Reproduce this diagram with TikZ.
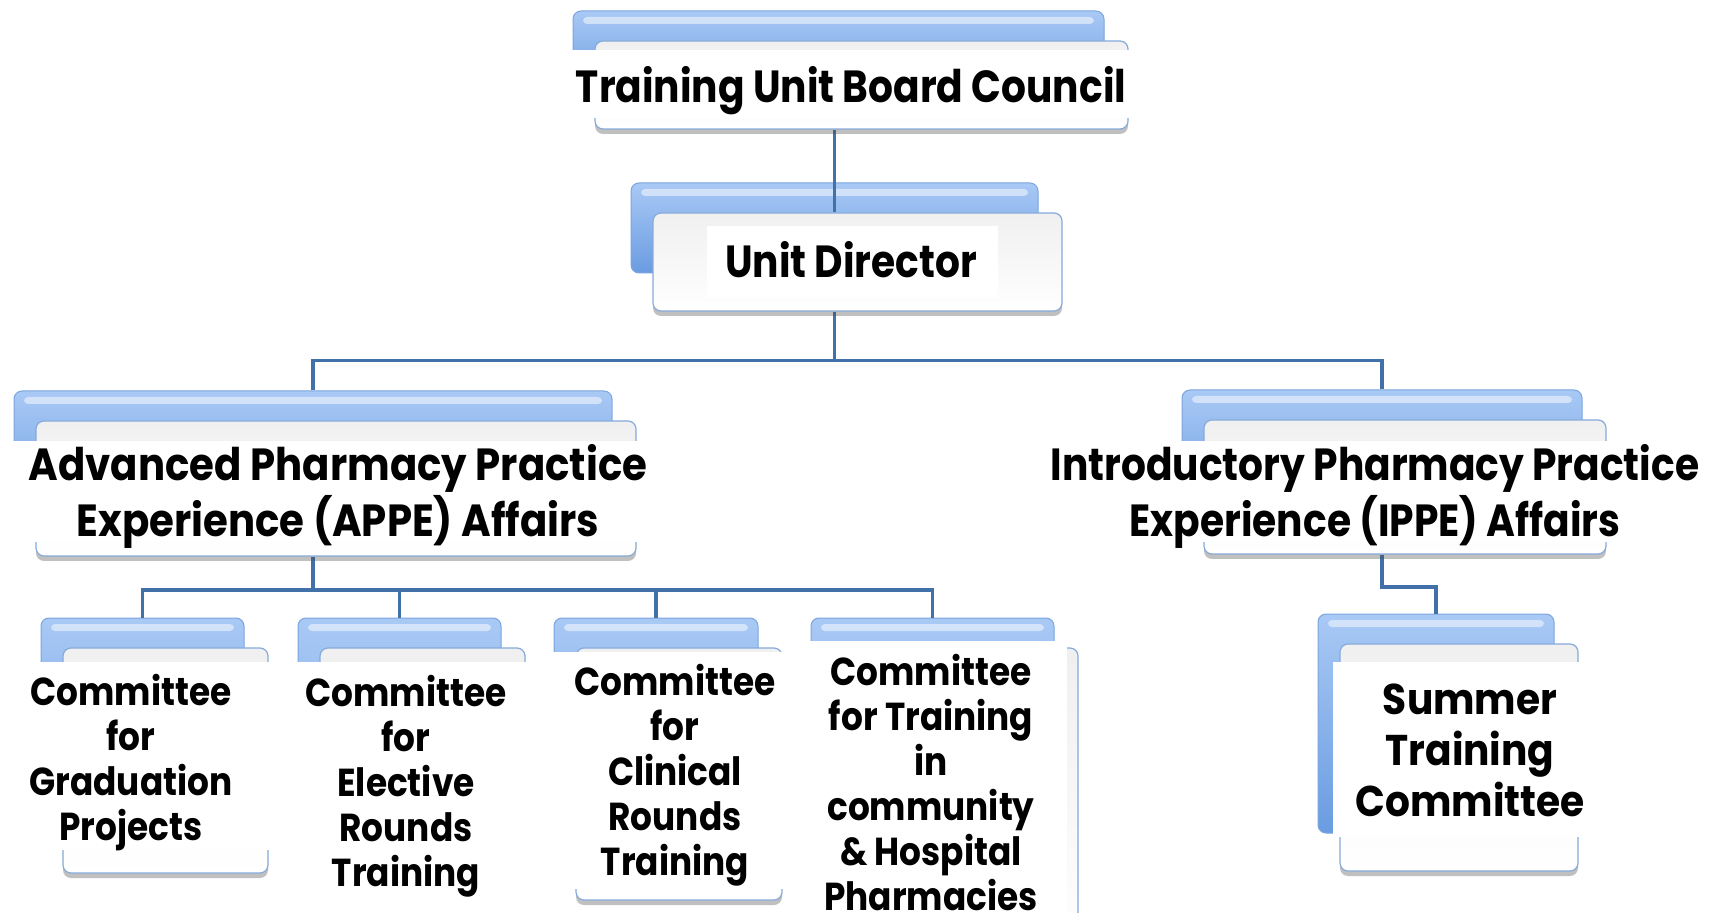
\documentclass[tikz,border=0pt]{standalone}
\usepackage{fontspec}
\setmainfont{Poppins}
\usetikzlibrary{fit,shadows,calc}
\definecolor{tabtop}{HTML}{A9C9F5}
\definecolor{tabbot}{HTML}{6A9CE1}
\definecolor{tabline}{HTML}{7AA5DD}
\definecolor{frontline}{HTML}{86AADA}
\definecolor{linkc}{HTML}{4270A8}
\pgfdeclarelayer{paper}\pgfdeclarelayer{tabs}\pgfdeclarelayer{links}
\pgfsetlayers{paper,tabs,links,main}
\tikzset{
 tabbox/.style={rounded corners=4pt, draw=tabline, line width=0.5pt, top color=tabtop, bottom color=tabbot, inner sep=0pt,
   path picture={\fill[white,opacity=0.5,rounded corners=2pt] ($(path picture bounding box.north west)+(5pt,-3pt)$) rectangle ($(path picture bounding box.north east)+(-5pt,-6.5pt)$);}},
 frontbox/.style={rounded corners=4pt, draw=frontline, line width=0.6pt, top color=black!6, bottom color=white, inner sep=0pt,
   drop shadow={shadow xshift=0pt, shadow yshift=-2.5pt, opacity=0.35, fill=black!70}},
 textbg/.style={fill=white, inner sep=0pt},
 txt/.style={inner sep=0pt, font=\bfseries},
 link/.style={draw=linkc, line width=1.9pt},
}
\newcommand\bigtxt[2][0.87]{\fontsize{22.5}{25.5}\selectfont\scalebox{#1}[1]{\begin{tabular}{@{}c@{}}#2\end{tabular}}}
\newcommand\comtxt[1]{\fontsize{19.5}{22.5}\selectfont\scalebox{0.88}[1]{\begin{tabular}{@{}c@{}}#1\end{tabular}}}
\newcommand\sumtxt[1]{\fontsize{21.5}{25.5}\selectfont\scalebox{0.91}[1]{\begin{tabular}{@{}c@{}}#1\end{tabular}}}
\newcommand\orgbox[5]{%
 \begin{pgfonlayer}{tabs}
 \node[tabbox, fit={({#2-22},{#3-30}) ({#4-24},{#5-38})}] (#1-t) {};
 \end{pgfonlayer}
 \node[frontbox, fit={(#2,#3) (#4,#5)}] (#1-f) {};
}
\begin{document}
\begin{tikzpicture}[x=0.5pt,y=-0.5pt]
\useasboundingbox (0,0) rectangle (1711,913);
\begin{pgfonlayer}{paper}
\fill[white] (0,0) rectangle (1711,913);
\end{pgfonlayer}
\clip (0,0) rectangle (1711,913);
% boxes
\orgbox{top}{595}{41}{1128}{129}
\orgbox{ud}{653}{213}{1062}{311}
\orgbox{appe}{36}{421}{636}{556}
\orgbox{ippe}{1204}{420}{1606}{554}
\orgbox{c1}{63}{648}{268}{873}
\orgbox{c2}{320}{648}{525}{960}
\orgbox{c3}{576}{648}{782}{900}
\orgbox{c4}{833}{648}{1078}{960}
\orgbox{c5}{1340}{644}{1578}{871}
% text backgrounds
\node[textbg, fit={(568,50) (1130,118)}] (top-bg) {};
\node[textbg, fit={(707,226) (998,297)}] (ud-bg) {};
\node[textbg, fit={(0,441) (655,542)}] (appe-bg) {};
\node[textbg, fit={(1042,441) (1711,542)}] (ippe-bg) {};
\node[textbg, fit={(0,662) (270,850)}] (c1-bg) {};
\node[textbg, fit={(286,662) (528,913)}] (c2-bg) {};
\node[textbg, fit={(547,652) (786,889)}] (c3-bg) {};
\node[textbg, fit={(806,641) (1067,913)}] (c4-bg) {};
\node[textbg, fit={(1333,662) (1580,837)}] (c5-bg) {};
% texts
\node[txt] (top) at (851,92) {\bigtxt{Training Unit Board Council}};
\node[txt] (ud) at (851,267) {\bigtxt{Unit Director}};
\node[txt] (appe) at (338,498) {\bigtxt[0.895]{Advanced Pharmacy Practice\\Experience (APPE) Affairs}};
\node[txt] (ippe) at (1375,498) {\bigtxt{Introductory Pharmacy Practice\\Experience (IPPE) Affairs}};
\node[txt] (c1) at (131,764) {\comtxt{Committee\\for\\Graduation\\Projects}};
\node[txt] (c2) at (406,787) {\comtxt{Committee\\for\\Elective\\Rounds\\Training}};
\node[txt] (c3) at (675,776) {\comtxt{Committee\\for\\Clinical\\Rounds\\Training}};
\node[txt] (c4) at (931,789) {\comtxt{Committee\\for Training\\in\\community\\\& Hospital\\Pharmacies}};
\node[txt] (c5) at (1470,755) {\sumtxt{Summer\\Training\\Committee}};
% connectors
\begin{pgfonlayer}{links}
\draw[link] (top-f.south -| ud-t.north) -- (ud-f.north -| ud-t.north);
\coordinate (b1) at ($(ud-t.north |- ud-f.south)+(0,49)$);
\draw[link] (ud-f.south -| ud-t.north) -- (b1);
\draw[link] (appe-t.north) |- (b1) -| (ippe-t.north);
\coordinate (b2) at ($(appe-t.north |- appe-f.south)+(0,33)$);
\draw[link] (appe-f.south -| appe-t.north) -- (b2);
\draw[link] (c1-t.north) |- (b2) -| (c4-t.north);
\draw[link] (b2 -| c2-t.north) -- (c2-t.north);
\draw[link] (b2 -| c3-t.north) -- (c3-t.north);
\coordinate (b3) at ($(ippe-t.north |- ippe-f.south)+(0,32)$);
\draw[link] (ippe-f.south -| ippe-t.north) -- (b3) -| (c5-t.north);
\end{pgfonlayer}
\end{tikzpicture}
\end{document}
